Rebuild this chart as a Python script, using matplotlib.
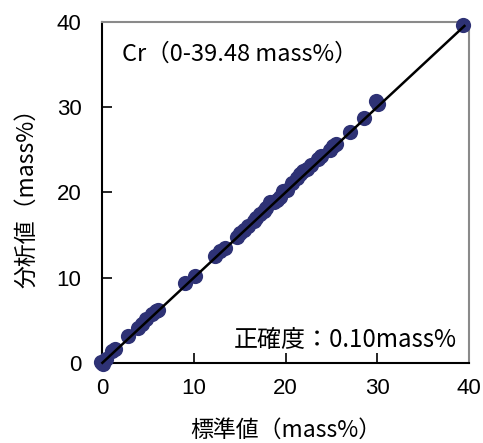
import matplotlib.pyplot as plt

plt.rcParams["font.family"] = ["Noto Sans CJK JP", "DejaVu Sans"]

# standard value vs analysed value (mass%)
standard = [0.0, -0.2, 0.1, 0.4, 1.0, 1.4, 2.8, 3.9, 4.3, 4.8, 5.4, 5.9, 6.1,
            9.0, 10.1, 12.3, 12.8, 13.4, 14.7, 15.0, 15.5, 15.9, 16.5, 16.8,
            17.2, 17.6, 17.9, 18.3, 18.7, 19.0, 19.4, 19.7, 20.1, 20.7, 21.2,
            21.6, 21.9, 22.3, 22.8, 23.5, 23.9, 24.8, 25.2, 25.5, 27.0, 28.5,
            29.9, 30.1, 39.4]
analysed = [0.0, 0.1, -0.1, 0.4, 1.4, 1.6, 3.1, 4.1, 4.5, 5.1, 5.7, 6.1, 6.2,
            9.4, 10.2, 12.5, 13.1, 13.5, 14.8, 15.2, 15.6, 16.0, 16.6, 17.0,
            17.4, 17.8, 18.2, 18.8, 18.9, 19.1, 19.5, 20.1, 20.3, 21.1, 21.7,
            22.1, 22.5, 22.7, 23.2, 23.9, 24.2, 25.0, 25.4, 25.7, 27.1, 28.7,
            30.7, 30.3, 39.6]

ticks = [0, 10, 20, 30, 40]

fig = plt.figure(figsize=(4.83, 4.43), dpi=100)
ax = fig.add_axes([0.212, 0.181, 0.759, 0.77])

ax.scatter(standard, analysed, s=120, color="#2e3275", zorder=3, clip_on=False,
           linewidths=0)
ax.plot([0, 39.5], [0, 39.5], color="black", linewidth=1.8, zorder=4,
        clip_on=False)

ax.set_xlim(0, 40)
ax.set_ylim(0, 40)
ax.set_xticks(ticks)
ax.set_yticks(ticks)
ax.tick_params(direction="in", length=7, width=1.2, labelsize=16,
               colors="black")
ax.tick_params(axis="y", pad=15)
ax.tick_params(axis="x", pad=11)
for lab in ax.get_xticklabels() + ax.get_yticklabels():
    lab.set_family("Liberation Sans")

ax.spines["left"].set_linewidth(1.5)
ax.spines["bottom"].set_linewidth(1.5)
for side in ["top", "right"]:
    ax.spines[side].set_color("#8a8a8a")
    ax.spines[side].set_linewidth(1.5)

ax.text(2.1, 36.2, "Cr（0-39.48 mass%）", fontsize=17, va="center")
ax.text(38.7, 2.7, "正確度：0.10mass%", fontsize=17.3, ha="right", va="center")

ax.set_xlabel("標準値（mass%）", fontsize=16.5, labelpad=14)
ax.set_ylabel("分析値（mass%）", fontsize=16.5, labelpad=13)

fig.savefig("out.png", dpi=100)
